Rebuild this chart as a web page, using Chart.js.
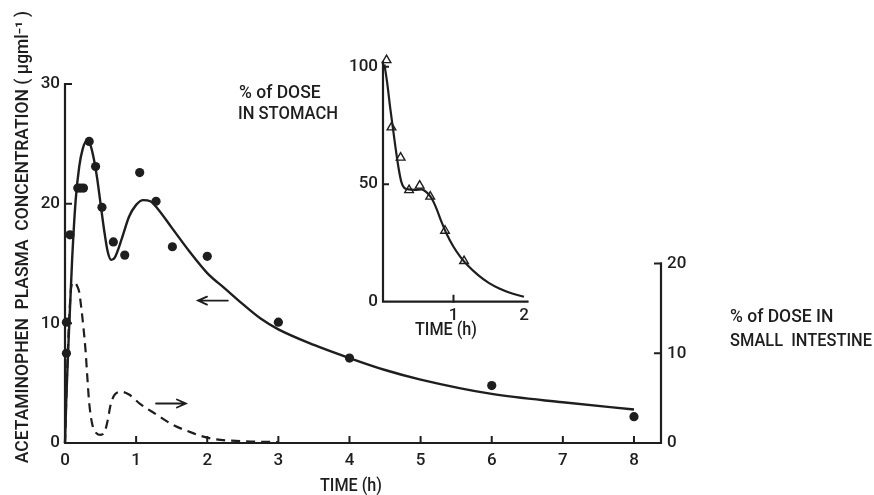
<!DOCTYPE html>
<html>
<head>
<meta charset="utf-8">
<script src="https://cdn.jsdelivr.net/npm/chart.js@4/dist/chart.umd.min.js"></script>
<style>
    html, body { margin: 0; padding: 0; background: #fff; }
    #wrap { position: relative; width: 874px; height: 495px; }
    #main { position: absolute; left: 0; top: 0; }
    #inset { position: absolute; left: 330px; top: 40px; }
</style>
</head>
<body>
<div id="wrap">
    <canvas id="main" width="874" height="495"></canvas>
    <canvas id="inset" width="230" height="305"></canvas>
</div>
<script>
// 혈장 농도 모델 곡선 (실선, 왼쪽 축)
const modelTime = [0, 0.02, 0.05, 0.1, 0.15, 0.2, 0.25, 0.3, 0.35, 0.4, 0.45, 0.5, 0.55, 0.6, 0.65, 0.7, 0.8, 0.9, 1.0, 1.1, 1.2, 1.3, 1.5, 1.75, 2.0, 2.25, 2.5, 2.75, 3.0, 3.5, 4.0, 4.5, 5.0, 6.0, 7.0, 8.0];
const modelConc = [0, 4, 8.5, 15.3, 20.3, 23.1, 24.6, 25.2, 25.0, 23.9, 22.2, 20.0, 17.8, 16.0, 15.3, 15.5, 17.1, 18.9, 19.9, 20.3, 20.2, 19.6, 18.0, 16.0, 14.2, 12.9, 11.6, 10.4, 9.5, 8.2, 7.1, 6.1, 5.3, 4.1, 3.4, 2.8];

// 측정값 (검은 점)
const obsTime = [0.02, 0.02, 0.07, 0.18, 0.22, 0.26, 0.34, 0.43, 0.52, 0.68, 0.84, 1.05, 1.28, 1.51, 2.0, 3.0, 4.0, 6.0, 8.0];
const obsConc = [7.5, 10.1, 17.4, 21.3, 21.3, 21.3, 25.2, 23.1, 19.7, 16.8, 15.7, 22.6, 20.2, 16.4, 15.6, 10.1, 7.1, 4.8, 2.2];

// 소장 내 용량 % (점선, 오른쪽 축)
const intestTime = [0, 0.03, 0.06, 0.09, 0.13, 0.17, 0.2, 0.23, 0.26, 0.29, 0.31, 0.34, 0.38, 0.44, 0.5, 0.56, 0.6, 0.64, 0.7, 0.8, 0.9, 1.05, 1.3, 1.5, 1.8, 2.05, 2.5, 3.0];
const intestPct = [0, 8, 14, 17.5, 17.9, 17.5, 16.8, 15.0, 12.8, 10.2, 7.8, 4.5, 2.2, 1.1, 0.9, 1.3, 2.5, 4.2, 5.4, 5.7, 5.4, 4.4, 3.1, 2.1, 1.1, 0.5, 0.2, 0.1];

// 위 내 용량 % (삽입 그래프)
const stomachTime = [0.02, 0.06, 0.1, 0.14, 0.18, 0.22, 0.26, 0.3, 0.36, 0.45, 0.55, 0.62, 0.69, 0.76, 0.83, 0.9, 1.0, 1.1, 1.2, 1.35, 1.5, 1.65, 1.8, 2.0];
const stomachPct = [101, 93, 83, 74, 65, 57, 51, 48.5, 47.8, 47.6, 47.8, 46.5, 44, 39.5, 34, 29, 23.4, 19, 15.5, 11.3, 8, 5.6, 3.8, 2.1];
const stomachObsTime = [0.05, 0.12, 0.25, 0.37, 0.52, 0.67, 0.88, 1.15];
const stomachObsPct = [102.8, 74.2, 61.3, 47.5, 49.4, 44.7, 30.2, 17.3];

// 눈금 (라벨 + 안쪽 눈금선)
const mainXLabels = [0, 1, 2, 3, 4, 5, 6, 7, 8];
const mainYLabels = [0, 10, 20, 30];
const rightYLabels = [0, 10, 20];
const insetXLabels = [1, 2];
const insetYLabels = [0, 50, 100];
const mainXTicks = [1, 2, 3, 4, 5, 6, 7, 8];
const mainYTicks = [10, 20, 30];
const rightYTicks = [10, 20];
const insetXTicks = [1];
const insetYTicks = [50, 100];

const INK = '#1e1e1e';
const FONT = 'Roboto, "Liberation Sans", sans-serif';
const TEXT_FONT = '500 17.5px ' + FONT;

const toPoints = (xs, ys) => xs.map((x, i) => ({ x: x, y: ys[i] }));
const fixTicks = list => axis => { axis.ticks = list.map(v => ({ value: v })); };

function arrow(ctx, x1, x2, y) {
    // x1 -> x2 방향 화살표
    const dir = x2 > x1 ? 1 : -1;
    ctx.beginPath();
    ctx.moveTo(x1, y);
    ctx.lineTo(x2, y);
    ctx.moveTo(x2 - dir * 9, y - 4);
    ctx.lineTo(x2, y);
    ctx.lineTo(x2 - dir * 9, y + 4);
    ctx.stroke();
}

const mainAxes = {
    id: 'mainAxes',
    afterDraw(chart) {
        const { ctx } = chart;
        const x = chart.scales.x, y = chart.scales.y, y2 = chart.scales.y2;
        const x0 = x.getPixelForValue(0), xr = chart.chartArea.right;
        const y0 = y.getPixelForValue(0);
        ctx.save();
        ctx.strokeStyle = INK;
        ctx.lineWidth = 2.2;
        ctx.lineCap = 'square';
        // 축선
        ctx.beginPath();
        ctx.moveTo(x0, y.getPixelForValue(30));
        ctx.lineTo(x0, y0);
        ctx.lineTo(xr, y0);
        ctx.lineTo(xr, y2.getPixelForValue(20));
        ctx.stroke();
        // 안쪽 눈금
        ctx.lineWidth = 2;
        ctx.beginPath();
        mainXTicks.forEach(v => { const px = x.getPixelForValue(v); ctx.moveTo(px, y0); ctx.lineTo(px, y0 - 6); });
        mainYTicks.forEach(v => { const py = y.getPixelForValue(v); ctx.moveTo(x0, py); ctx.lineTo(x0 + 6, py); });
        rightYTicks.forEach(v => { const py = y2.getPixelForValue(v); ctx.moveTo(xr, py); ctx.lineTo(xr - 6, py); });
        ctx.stroke();
        // 화살표
        ctx.lineWidth = 1.8;
        ctx.lineCap = 'round';
        arrow(ctx, x.getPixelForValue(2.29), x.getPixelForValue(1.87), y.getPixelForValue(11.9));
        arrow(ctx, x.getPixelForValue(1.28), x.getPixelForValue(1.70), y2.getPixelForValue(4.4));
        // 텍스트
        ctx.fillStyle = INK;
        ctx.font = TEXT_FONT;
        ctx.textBaseline = 'middle';
        ctx.textAlign = 'left';
        ctx.fillText('% of DOSE', 239, 94, 82);
        ctx.fillText('IN STOMACH', 238, 115, 100);
        ctx.fillText('% of DOSE IN', 730, 318, 110);
        ctx.fillText('SMALL  INTESTINE', 730, 342, 142);
        ctx.textAlign = 'center';
        ctx.fillText('TIME (h)', 351, 487, 62);
        ctx.translate(24, 237);
        ctx.rotate(-Math.PI / 2);
        ctx.fillText('ACETAMINOPHEN  PLASMA  CONCENTRATION ( \u03bcgml\u207b\u00b9 )', 0, 0, 453);
        ctx.restore();
    }
};

const insetAxes = {
    id: 'insetAxes',
    afterDraw(chart) {
        const { ctx } = chart;
        const x = chart.scales.x, y = chart.scales.y;
        const x0 = x.getPixelForValue(0), xr = chart.chartArea.right;
        const y0 = y.getPixelForValue(0);
        ctx.save();
        ctx.strokeStyle = INK;
        ctx.lineWidth = 2.2;
        ctx.lineCap = 'square';
        ctx.beginPath();
        ctx.moveTo(x0, chart.chartArea.top);
        ctx.lineTo(x0, y0);
        ctx.lineTo(xr, y0);
        ctx.stroke();
        ctx.lineWidth = 2;
        ctx.beginPath();
        insetXTicks.forEach(v => { const px = x.getPixelForValue(v); ctx.moveTo(px, y0); ctx.lineTo(px, y0 - 6); });
        insetYTicks.forEach(v => { const py = y.getPixelForValue(v); ctx.moveTo(x0, py); ctx.lineTo(x0 + 5, py); });
        ctx.stroke();
        ctx.fillStyle = INK;
        ctx.font = TEXT_FONT;
        ctx.textAlign = 'center';
        ctx.textBaseline = 'middle';
        ctx.fillText('TIME (h)', 116, 291, 62);
        ctx.restore();
    }
};

const tickFont = { family: FONT, size: 17, weight: '500' };

new Chart(document.getElementById('main'), {
    type: 'scatter',
    data: {
        datasets: [{
            data: toPoints(modelTime, modelConc),
            showLine: true,
            borderColor: INK,
            borderWidth: 2.4,
            pointRadius: 0,
            cubicInterpolationMode: 'monotone',
            clip: false,
            yAxisID: 'y'
        }, {
            data: toPoints(obsTime, obsConc),
            showLine: false,
            pointRadius: 4.6,
            pointBackgroundColor: INK,
            pointBorderColor: INK,
            pointBorderWidth: 0,
            clip: false,
            yAxisID: 'y'
        }, {
            data: toPoints(intestTime, intestPct),
            showLine: true,
            borderColor: INK,
            borderWidth: 2.2,
            borderDash: [9, 6],
            pointRadius: 0,
            cubicInterpolationMode: 'monotone',
            clip: false,
            yAxisID: 'y2'
        }]
    },
    options: {
        responsive: false,
        animation: false,
        events: [],
        layout: { padding: { top: 84, left: 0, right: 0, bottom: 0 } },
        plugins: { legend: { display: false }, tooltip: { enabled: false } },
        scales: {
            x: {
                type: 'linear', min: 0, max: 8.38,
                grid: { display: false, drawTicks: false },
                border: { display: false },
                afterFit: axis => { axis.height = 52; },
                afterBuildTicks: fixTicks(mainXLabels),
                ticks: { padding: 8, color: INK, font: tickFont, maxRotation: 0, autoSkip: false }
            },
            y: {
                position: 'left', min: 0, max: 30,
                grid: { display: false, drawTicks: false },
                border: { display: false },
                afterFit: axis => { axis.width = 65; },
                afterBuildTicks: fixTicks(mainYLabels),
                ticks: { padding: 5, color: INK, font: tickFont }
            },
            y2: {
                position: 'right', min: 0, max: 40,
                grid: { display: false, drawTicks: false },
                border: { display: false },
                afterFit: axis => { axis.width = 213; },
                afterBuildTicks: fixTicks(rightYLabels),
                ticks: { padding: 6, color: INK, font: tickFont }
            }
        }
    },
    plugins: [mainAxes]
});

new Chart(document.getElementById('inset'), {
    type: 'scatter',
    data: {
        datasets: [{
            data: toPoints(stomachTime, stomachPct),
            showLine: true,
            borderColor: INK,
            borderWidth: 2.2,
            pointRadius: 0,
            cubicInterpolationMode: 'monotone',
            clip: false
        }, {
            data: toPoints(stomachObsTime, stomachObsPct),
            showLine: false,
            pointStyle: 'triangle',
            pointRadius: 5,
            pointBackgroundColor: '#fff',
            pointBorderColor: INK,
            pointBorderWidth: 1.4,
            clip: false
        }]
    },
    options: {
        responsive: false,
        animation: false,
        events: [],
        layout: { padding: { top: 22, left: 0, right: 32.5, bottom: 0 } },
        plugins: { legend: { display: false }, tooltip: { enabled: false } },
        scales: {
            x: {
                type: 'linear', min: 0, max: 2.05,
                grid: { display: false, drawTicks: false },
                border: { display: false },
                afterFit: axis => { axis.height = 43.3; },
                afterBuildTicks: fixTicks(insetXLabels),
                ticks: { padding: 4, color: INK, font: tickFont, maxRotation: 0, autoSkip: false }
            },
            y: {
                min: 0, max: 102,
                grid: { display: false, drawTicks: false },
                border: { display: false },
                afterFit: axis => { axis.width = 53; },
                afterBuildTicks: fixTicks(insetYLabels),
                ticks: { padding: 5, color: INK, font: tickFont }
            }
        }
    },
    plugins: [insetAxes]
});
</script>
</body>
</html>
